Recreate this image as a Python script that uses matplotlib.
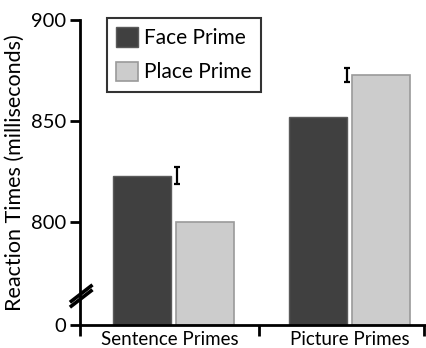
import matplotlib
matplotlib.use("Agg")
import matplotlib.pyplot as plt
import numpy as np

categories = ["Sentence Primes", "Picture Primes"]
series_names = ["Face Prime", "Place Prime"]
face_rt = [823, 852]
place_rt = [800, 873]
err_center = [823, 872.8]
err_half = [4.2, 3.3]
ytick_values = [749, 800, 850, 900]
ytick_labels = ["0", "800", "850", "900"]

plt.rcParams['font.family'] = ['Lato', 'DejaVu Sans']

fig = plt.figure(figsize=(4.26, 3.48), dpi=100)
ax = fig.add_axes([80/426, 23/348, 346/426, 305/348])

base = 749
x = np.arange(len(categories))
w = 0.33
off = 0.18
ax.bar(x - off, np.array(face_rt) - base, w, bottom=base, color="#404040",
       edgecolor="#5a5a5a", linewidth=1.0, label=series_names[0], zorder=2)
ax.bar(x + off, np.array(place_rt) - base, w, bottom=base, color="#cccccc",
       edgecolor="#9a9a9a", linewidth=1.2, label=series_names[1], zorder=2)

err_x = [0.019, 0.985]
ax.errorbar(err_x, err_center, yerr=err_half, fmt="none", ecolor="black",
            elinewidth=1.6, capsize=2.3, capthick=1.6, zorder=3)

ax.set_ylim(base, 900)
ax.set_xlim(-0.5307, 1.435)
ax.set_yticks(ytick_values)
ax.set_yticklabels(ytick_labels, fontsize=14.5)
ax.set_xticks([-0.5307, 0.487, 1.4245])
ax.set_xticklabels([])
ax.set_xticks([-0.02, 1.0], minor=True)
ax.set_xticklabels(categories, minor=True, fontsize=13.5)
ax.tick_params(axis="x", which="minor", length=0, pad=4)
ax.tick_params(axis="x", which="major", length=8, width=2, direction="out")
ax.tick_params(axis="y", length=7, width=2, direction="out", pad=3)

for s in ["top", "right"]:
    ax.spines[s].set_visible(False)
for s in ["left", "bottom"]:
    ax.spines[s].set_linewidth(2)

ax.set_ylabel("Reaction Times (milliseconds)", fontsize=15.5, labelpad=4)

# axis break mark
kw = dict(transform=ax.transAxes, color="black", lw=2.6, clip_on=False, zorder=5)
for dy in (0.0, 0.016):
    ax.plot([-0.025, 0.032], [0.062 + dy, 0.112 + dy], **kw)

leg = ax.legend(loc="upper left", bbox_to_anchor=(0.078, 1.0066), frameon=True,
                fancybox=False, edgecolor="black", fontsize=15,
                handlelength=1.05, handleheight=1.05, borderpad=0.45,
                labelspacing=0.65, handletextpad=0.3, borderaxespad=0)
leg.get_frame().set_linewidth(1.5)

fig.savefig("out.png", dpi=100)
